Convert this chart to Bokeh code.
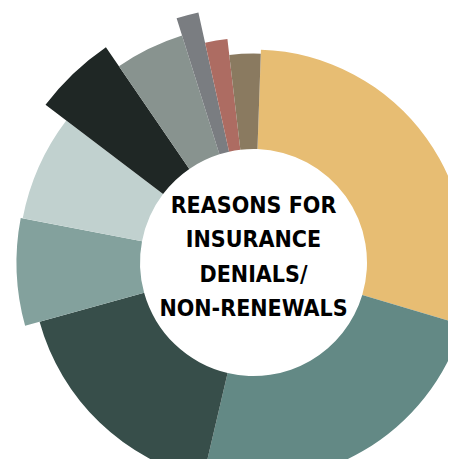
import math
from bokeh.plotting import figure
from bokeh.models import Range1d, ColumnDataSource
from bokeh.core.properties import value
from bokeh.embed import file_html
from bokeh.resources import INLINE

# ---- data (clockwise from 12 o'clock) ----
reasons = ["Reason 1", "Reason 2", "Reason 3", "Reason 4", "Reason 5",
           "Reason 6", "Reason 7", "Reason 8", "Reason 9", "Reason 10"]
shares = [29.0, 24.0, 17.0, 7.3, 7.3, 5.1, 4.7, 1.4, 1.6, 2.4]
outer_radius = [213, 218, 222, 237, 235, 261, 238, 256, 225, 209]
colors = ["#E7BD73", "#638985", "#374E4A", "#83A19D", "#C1D1CF",
          "#1F2725", "#88938F", "#7A7D81", "#AD6C62", "#8A7A60"]
title_lines = ["REASONS FOR", "INSURANCE", "DENIALS/", "NON-RENEWALS"]

# ---- layout ----
W, H = 448, 459
CX, CY = 253, 262          # pixel position of the centre inside the plot
HOLE = 113.5
ROT = 2.0                  # degrees clockwise from 12 o'clock where the first slice starts

total = sum(shares)
starts, ends = [], []
acc = ROT
for s in shares:
    a0 = acc
    a1 = acc + s / total * 360.0
    starts.append(math.radians(90.0 - a0))
    ends.append(math.radians(90.0 - a1))
    acc = a1

src = ColumnDataSource(dict(reason=reasons, share=shares, r=outer_radius,
                            color=colors, start=starts, end=ends))

p = figure(width=W, height=H, x_range=Range1d(-CX, W - CX), y_range=Range1d(-(H - CY), CY),
           output_backend="svg", toolbar_location=None, min_border=0)
p.axis.visible = False
p.grid.visible = False
p.outline_line_color = None
p.background_fill_color = "white"
p.border_fill_color = "white"

p.annular_wedge(x=0, y=0, inner_radius=HOLE, outer_radius="r", start_angle="start",
                end_angle="end", direction="clock", fill_color="color", line_color=None,
                source=src)

n = len(title_lines)
spacing = 34.5
offsets = [(i - (n - 1) / 2) * spacing - 6 for i in range(n)]
tsrc = ColumnDataSource(dict(x=[0] * n, y=[0] * n, text=title_lines, yo=offsets))
p.text(x="x", y="y", text="text", y_offset="yo", source=tsrc,
       text_font=value("'Liberation Sans Narrow', 'Noto Sans Condensed', 'DejaVu Sans Condensed', 'Roboto Condensed', Roboto, sans-serif"),
       text_font_style="bold",
       text_font_size="23px", text_align="center", text_baseline="middle",
       text_color="#000000")

open("out.html", "w").write(file_html(p, INLINE))
